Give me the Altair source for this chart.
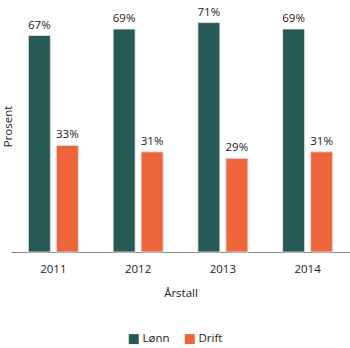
import altair as alt
import pandas as pd

years = ["2011", "2012", "2013", "2014"]
lonn = [67, 69, 71, 69]
drift = [33, 31, 29, 31]
series = ["Lønn", "Drift"]
colors = ["#285a55", "#ee653c"]

rows = []
for i, y in enumerate(years):
    rows.append({"Årstall": y, "Type": "Lønn", "Verdi": lonn[i], "Label": f"{lonn[i]}%"})
    rows.append({"Årstall": y, "Type": "Drift", "Verdi": drift[i], "Label": f"{drift[i]}%"})
df = pd.DataFrame(rows)

FONT = "Open Sans"

x = alt.X("Årstall:N", sort=years,
          scale=alt.Scale(paddingInner=0.41, paddingOuter=0.205),
          axis=alt.Axis(title="Årstall", labelAngle=0, ticks=False, labelPadding=11,
                        titlePadding=13, domainColor="#8a8a8a", domainWidth=1.2,
                        labelFont=FONT, titleFont=FONT, labelFontSize=11.5,
                        titleFontSize=11.5, labelColor="#222", titleColor="#222",
                        titleFontWeight="normal"))
xoff = alt.XOffset("Type:N", sort=series,
                   scale=alt.Scale(paddingInner=0.214, paddingOuter=0))
y = alt.Y("Verdi:Q", scale=alt.Scale(domain=[0, 78]),
          axis=alt.Axis(title="Prosent", labels=False, ticks=False, domain=False,
                        grid=False, titlePadding=-2, titleFont=FONT, titleFontSize=11.5,
                        titleColor="#222", titleFontWeight="normal"))
color = alt.Color("Type:N", sort=series,
                  scale=alt.Scale(domain=series, range=colors),
                  legend=alt.Legend(title=None, orient="none", direction="horizontal",
                                    legendX=117, legendY=333, symbolType="square",
                                    symbolSize=100, symbolStrokeWidth=0,
                                    labelFont=FONT, labelFontSize=11.5, labelColor="#222",
                                    columnPadding=14, labelOffset=3))

base = alt.Chart(df)
bars = base.mark_bar(stroke="#e8e8e8", strokeWidth=0.8).encode(x=x, xOffset=xoff, y=y, color=color)
text = base.mark_text(baseline="bottom", dy=-5, font=FONT, fontSize=11.5, color="#222").encode(
    x=x, xOffset=xoff, y=y, text="Label:N")

chart = (bars + text).properties(
    width=339, height=252,
    autosize=alt.AutoSizeParams(type="none"),
    padding={"left": 11, "top": 0, "right": 0, "bottom": 96},
).configure_view(stroke=None).configure_axis(grid=False)

chart.save("out.html", embed_options={"renderer": "svg", "actions": False})
